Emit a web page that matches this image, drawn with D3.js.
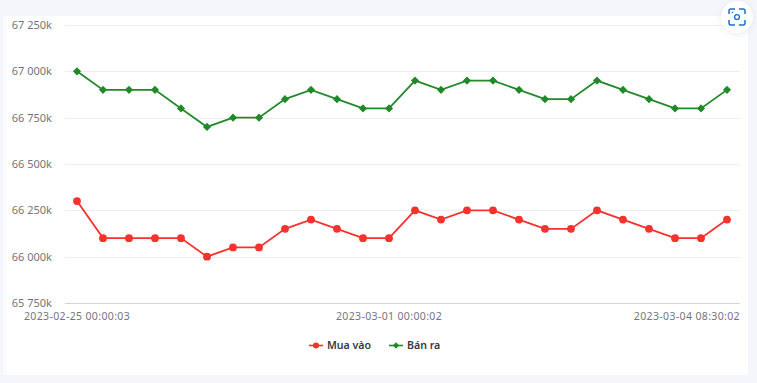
<!DOCTYPE html>
<html><head><meta charset="utf-8">
<script src="https://cdn.jsdelivr.net/npm/d3@7/dist/d3.min.js"></script>
<style>html,body{margin:0;padding:0;background:#f4f6fb;width:757px;height:383px;overflow:hidden}svg{display:block}</style>
</head><body><svg id="c" width="757" height="383"></svg>
<script>
const pointIndex = d3.range(26);
const tickLabels = [[0,"2023-02-25 00:00:03"],[12,"2023-03-01 00:00:02"],[25,"2023-03-04 08:30:02"]];
const yTicks = [65750,66000,66250,66500,66750,67000,67250];
const buyValues = [66300,66100,66100,66100,66100,66000,66050,66050,66150,66200,66150,66100,66100,66250,66200,66250,66250,66200,66150,66150,66250,66200,66150,66100,66100,66200];
const sellValues = [67000,66900,66900,66900,66800,66700,66750,66750,66850,66900,66850,66800,66800,66950,66900,66950,66950,66900,66850,66850,66950,66900,66850,66800,66800,66900];
const seriesNames = ["Mua vào","Bán ra"];
const red="#f5322d", green="#22892a";
const font="'Noto Sans',sans-serif";
const svg=d3.select("#c");
svg.append("rect").attr("x",3).attr("y",16).attr("width",745).attr("height",359).attr("fill","#fff");
svg.append("rect").attr("x",3).attr("y",16).attr("width",4).attr("height",359).attr("fill","#fafbff");
const x=d3.scalePoint().domain(pointIndex).range([77,727]);
const y=d3.scaleLinear().domain([65750,67250]).range([303,25]);
const gy=svg.append("g");
gy.selectAll("line").data(yTicks).join("line")
 .attr("x1",65).attr("x2",740).attr("y1",d=>Math.round(y(d))+.5).attr("y2",d=>Math.round(y(d))+.5)
 .attr("stroke",d=>d===65750?"#ccd4f0":"#eeeeee").attr("stroke-width",1.2);
const fmt=d=>{const s=String(d);return s.slice(0,2)+" "+s.slice(2)+"k"};
gy.selectAll("text").data(yTicks).join("text").attr("x",52).attr("y",d=>y(d)+4)
 .attr("text-anchor","end").attr("font-family",font).attr("font-size",11).attr("fill","#72767c").text(fmt);
svg.append("g").selectAll("text").data(tickLabels).join("text")
 .attr("x",(d,i)=>i===2?740:x(d[0])).attr("y",320)
 .attr("text-anchor",(d,i)=>i===2?"end":"middle")
 .attr("font-family",font).attr("font-size",10.5).attr("letter-spacing",0.37).attr("fill","#72767c").text(d=>d[1]);
const line=d3.line().x((d,i)=>x(i)).y(d=>y(d));
svg.append("path").attr("d",line(buyValues)).attr("fill","none").attr("stroke",red).attr("stroke-width",1.8);
svg.append("path").attr("d",line(sellValues)).attr("fill","none").attr("stroke",green).attr("stroke-width",1.8);
svg.append("g").selectAll("circle").data(buyValues).join("circle")
 .attr("cx",(d,i)=>x(i)).attr("cy",d=>y(d)).attr("r",3.9).attr("fill",red);
const dia=d3.symbol().type(d3.symbolDiamond2||d3.symbolDiamond).size(42);
svg.append("g").selectAll("path").data(sellValues).join("path")
 .attr("d",dia).attr("transform",(d,i)=>`translate(${x(i)},${y(d)})`).attr("fill",green);
const lg=svg.append("g");
const lx=[309,389];
seriesNames.forEach((n,i)=>{
 const c=i?green:red;
 lg.append("line").attr("x1",lx[i]).attr("x2",lx[i]+14).attr("y1",345.5).attr("y2",345.5).attr("stroke",c).attr("stroke-width",1.6);
 if(i) lg.append("path").attr("d",d3.symbol().type(d3.symbolDiamond2||d3.symbolDiamond).size(26)).attr("transform",`translate(${lx[i]+7},345.5)`).attr("fill",c);
 else lg.append("circle").attr("cx",lx[i]+7).attr("cy",345.5).attr("r",3).attr("fill",c);
 lg.append("text").attr("x",lx[i]+18).attr("y",349).attr("font-family",font).attr("font-size",10.6).attr("font-weight",600).attr("fill","#333a45").text(n);
});
const defs=svg.append("defs");
const f=defs.append("filter").attr("id","sh").attr("x","-50%").attr("y","-50%").attr("width","200%").attr("height","200%");
f.append("feDropShadow").attr("dx",0).attr("dy",1).attr("stdDeviation",3).attr("flood-color","#c5cbd8").attr("flood-opacity",.4);
const cam=svg.append("g").attr("transform","translate(737,17)");
cam.append("circle").attr("r",16).attr("fill","#fff").attr("filter","url(#sh)");
cam.append("path").attr("d","M-8,-3V-6a2,2 0 0 1 2,-2H-2M2,-8H6a2,2 0 0 1 2,2V-3M8,3V6a2,2 0 0 1 -2,2H2M-2,8H-6a2,2 0 0 1 -2,-2V3")
 .attr("fill","none").attr("stroke","#1a6fd0").attr("stroke-width",1.5);
cam.append("circle").attr("r",2.4).attr("fill","none").attr("stroke","#1a6fd0").attr("stroke-width",1.4);
cam.append("circle").attr("cx",-4.5).attr("cy",-4.5).attr("r",.8).attr("fill","#1a6fd0");
</script></body></html>
